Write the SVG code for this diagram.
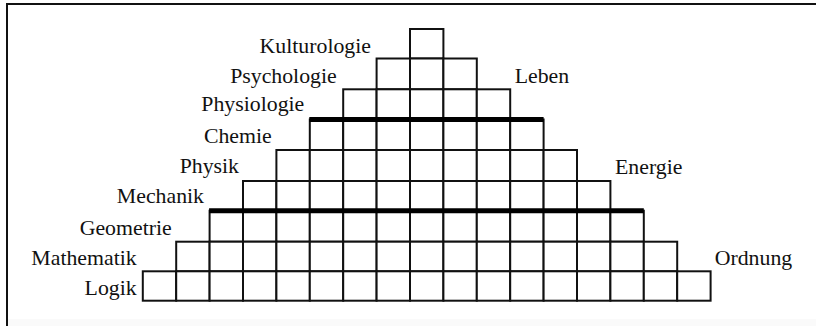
<svg xmlns="http://www.w3.org/2000/svg" width="816" height="326" viewBox="0 0 816 326">
<style>
.c{fill:#fff;stroke:#111;stroke-width:2}
.t{font-family:"Liberation Serif","Times New Roman",serif;font-size:21.8px;fill:#111}
.e{text-anchor:end}
.sep{stroke:#000;stroke-width:5;fill:none}
.fr{stroke:#111;stroke-width:2;fill:none}
</style>
<rect x="0" y="0" width="816" height="326" fill="#fff"/>
<rect x="7" y="319" width="809" height="7" fill="#fafafa"/>
<path class="fr" d="M7,326 V4 H816"/>
<g id="row0"><rect class="c" x="410" y="29" width="33.4" height="29.5"/></g>
<g id="row1">
<rect class="c" x="376.6" y="58.5" width="33.4" height="30.8"/><rect class="c" x="410" y="58.5" width="33.4" height="30.8"/><rect class="c" x="443.4" y="58.5" width="33.4" height="30.8"/>
</g>
<g id="row2">
<rect class="c" x="343.2" y="89.3" width="33.4" height="30.2"/><rect class="c" x="376.6" y="89.3" width="33.4" height="30.2"/><rect class="c" x="410" y="89.3" width="33.4" height="30.2"/><rect class="c" x="443.4" y="89.3" width="33.4" height="30.2"/><rect class="c" x="476.8" y="89.3" width="33.4" height="30.2"/>
</g>
<g id="row3">
<rect class="c" x="309.8" y="119.5" width="33.4" height="30.5"/><rect class="c" x="343.2" y="119.5" width="33.4" height="30.5"/><rect class="c" x="376.6" y="119.5" width="33.4" height="30.5"/><rect class="c" x="410" y="119.5" width="33.4" height="30.5"/><rect class="c" x="443.4" y="119.5" width="33.4" height="30.5"/><rect class="c" x="476.8" y="119.5" width="33.4" height="30.5"/><rect class="c" x="510.2" y="119.5" width="33.4" height="30.5"/>
</g>
<g id="row4">
<rect class="c" x="276.4" y="150" width="33.4" height="31"/><rect class="c" x="309.8" y="150" width="33.4" height="31"/><rect class="c" x="343.2" y="150" width="33.4" height="31"/><rect class="c" x="376.6" y="150" width="33.4" height="31"/><rect class="c" x="410" y="150" width="33.4" height="31"/><rect class="c" x="443.4" y="150" width="33.4" height="31"/><rect class="c" x="476.8" y="150" width="33.4" height="31"/><rect class="c" x="510.2" y="150" width="33.4" height="31"/><rect class="c" x="543.6" y="150" width="33.4" height="31"/>
</g>
<g id="row5">
<rect class="c" x="243" y="181" width="33.4" height="29.7"/><rect class="c" x="276.4" y="181" width="33.4" height="29.7"/><rect class="c" x="309.8" y="181" width="33.4" height="29.7"/><rect class="c" x="343.2" y="181" width="33.4" height="29.7"/><rect class="c" x="376.6" y="181" width="33.4" height="29.7"/><rect class="c" x="410" y="181" width="33.4" height="29.7"/><rect class="c" x="443.4" y="181" width="33.4" height="29.7"/><rect class="c" x="476.8" y="181" width="33.4" height="29.7"/><rect class="c" x="510.2" y="181" width="33.4" height="29.7"/><rect class="c" x="543.6" y="181" width="33.4" height="29.7"/><rect class="c" x="577" y="181" width="33.4" height="29.7"/>
</g>
<g id="row6">
<rect class="c" x="209.6" y="210.7" width="33.4" height="31"/><rect class="c" x="243" y="210.7" width="33.4" height="31"/><rect class="c" x="276.4" y="210.7" width="33.4" height="31"/><rect class="c" x="309.8" y="210.7" width="33.4" height="31"/><rect class="c" x="343.2" y="210.7" width="33.4" height="31"/><rect class="c" x="376.6" y="210.7" width="33.4" height="31"/><rect class="c" x="410" y="210.7" width="33.4" height="31"/><rect class="c" x="443.4" y="210.7" width="33.4" height="31"/><rect class="c" x="476.8" y="210.7" width="33.4" height="31"/><rect class="c" x="510.2" y="210.7" width="33.4" height="31"/><rect class="c" x="543.6" y="210.7" width="33.4" height="31"/><rect class="c" x="577" y="210.7" width="33.4" height="31"/><rect class="c" x="610.4" y="210.7" width="33.4" height="31"/>
</g>
<g id="row7">
<rect class="c" x="176.2" y="241.7" width="33.4" height="29.6"/><rect class="c" x="209.6" y="241.7" width="33.4" height="29.6"/><rect class="c" x="243" y="241.7" width="33.4" height="29.6"/><rect class="c" x="276.4" y="241.7" width="33.4" height="29.6"/><rect class="c" x="309.8" y="241.7" width="33.4" height="29.6"/><rect class="c" x="343.2" y="241.7" width="33.4" height="29.6"/><rect class="c" x="376.6" y="241.7" width="33.4" height="29.6"/><rect class="c" x="410" y="241.7" width="33.4" height="29.6"/><rect class="c" x="443.4" y="241.7" width="33.4" height="29.6"/><rect class="c" x="476.8" y="241.7" width="33.4" height="29.6"/><rect class="c" x="510.2" y="241.7" width="33.4" height="29.6"/><rect class="c" x="543.6" y="241.7" width="33.4" height="29.6"/><rect class="c" x="577" y="241.7" width="33.4" height="29.6"/><rect class="c" x="610.4" y="241.7" width="33.4" height="29.6"/><rect class="c" x="643.8" y="241.7" width="33.4" height="29.6"/>
</g>
<g id="row8">
<rect class="c" x="142.8" y="271.3" width="33.4" height="29.4"/><rect class="c" x="176.2" y="271.3" width="33.4" height="29.4"/><rect class="c" x="209.6" y="271.3" width="33.4" height="29.4"/><rect class="c" x="243" y="271.3" width="33.4" height="29.4"/><rect class="c" x="276.4" y="271.3" width="33.4" height="29.4"/><rect class="c" x="309.8" y="271.3" width="33.4" height="29.4"/><rect class="c" x="343.2" y="271.3" width="33.4" height="29.4"/><rect class="c" x="376.6" y="271.3" width="33.4" height="29.4"/><rect class="c" x="410" y="271.3" width="33.4" height="29.4"/><rect class="c" x="443.4" y="271.3" width="33.4" height="29.4"/><rect class="c" x="476.8" y="271.3" width="33.4" height="29.4"/><rect class="c" x="510.2" y="271.3" width="33.4" height="29.4"/><rect class="c" x="543.6" y="271.3" width="33.4" height="29.4"/><rect class="c" x="577" y="271.3" width="33.4" height="29.4"/><rect class="c" x="610.4" y="271.3" width="33.4" height="29.4"/><rect class="c" x="643.8" y="271.3" width="33.4" height="29.4"/><rect class="c" x="677.2" y="271.3" width="33.4" height="29.4"/>
</g>
<g id="separators">
<line class="sep" x1="309.3" y1="119.5" x2="543.6" y2="119.5"/>
<line class="sep" x1="209.1" y1="210.7" x2="643.8" y2="210.7"/>
</g>
<g id="labels">
<text class="t e" x="371" y="53">Kulturologie</text>
<text class="t e" x="336.7" y="82.7">Psychologie</text>
<text class="t e" x="304.3" y="111">Physiologie</text>
<text class="t e" x="271.7" y="142.7">Chemie</text>
<text class="t e" x="239" y="173.3">Physik</text>
<text class="t e" x="204" y="203">Mechanik</text>
<text class="t e" x="171.7" y="234.7">Geometrie</text>
<text class="t e" x="136.7" y="264.7">Mathematik</text>
<text class="t e" x="136.7" y="294.7">Logik</text>
<text class="t" x="514.7" y="82.7">Leben</text>
<text class="t" x="615" y="174">Energie</text>
<text class="t" x="714.7" y="264.7">Ordnung</text>
</g>
</svg>
